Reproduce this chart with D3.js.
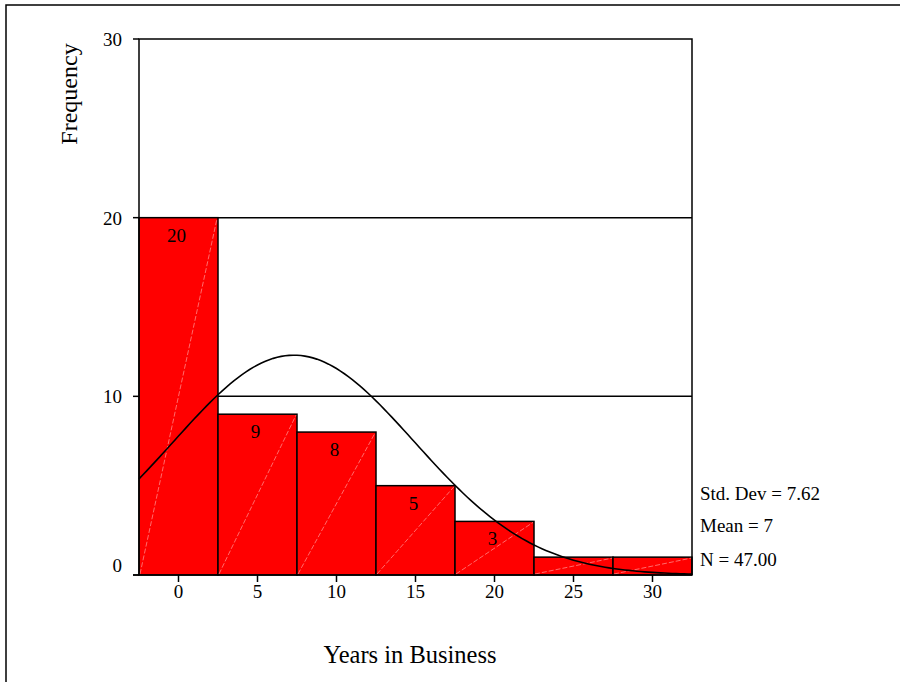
<!DOCTYPE html>
<html><head><meta charset="utf-8">
<script src="https://cdn.jsdelivr.net/npm/d3@7"></script>
<style>
html,body{margin:0;padding:0;background:#fff;}
svg{display:block;}
text{font-family:"Liberation Serif","Times New Roman",serif;fill:#000;}
</style></head>
<body>
<script>
// ---- data ----
const binCenters = [0, 5, 10, 15, 20, 25, 30];
const frequencies = [20, 9, 8, 5, 3, 1, 1];
const barLabels = ["20", "9", "8", "5", "3", "", ""];
const xTicks = [0, 5, 10, 15, 20, 25, 30];
const yTicks = [0, 10, 20, 30];
const binWidth = 5;
const stdDev = 7.62;
const curveMean = 7.3;   // unrounded mean (label shows rounded 7)
const nCount = 47;
const statLines = ["Std. Dev = 7.62", "Mean = 7", "N = 47.00"];
const xTitle = "Years in Business";
const yTitle = "Frequency";

const W = 900, H = 682;
const svg = d3.select("body").append("svg").attr("width", W).attr("height", H);

// outer frame (top and left)
svg.append("path").attr("d", "M6,682 L6,5 L900,5").attr("fill","none").attr("stroke","#000").attr("stroke-width",1.5);

const x = d3.scaleLinear().domain([-2.5, 32.5]).range([139, 692]);
const y = d3.scaleLinear().domain([0, 30]).range([575, 39]);

// gridlines (behind bars)
svg.append("g").selectAll("line").data(yTicks.filter(t => t > 0 && t < 30)).join("line")
  .attr("x1", x(-2.5)).attr("x2", x(32.5))
  .attr("y1", d => y(d)).attr("y2", d => y(d))
  .attr("stroke", "#000").attr("stroke-width", 1.5);

// bars
const bars = svg.append("g");
binCenters.forEach((c, i) => {
  const x0 = x(c - binWidth/2), x1 = x(c + binWidth/2);
  const y0 = y(0), y1 = y(frequencies[i]);
  bars.append("rect").attr("x", x0).attr("y", y1).attr("width", x1 - x0).attr("height", y0 - y1)
    .attr("fill", "#ff0000").attr("stroke", "#000").attr("stroke-width", 1.5);
  bars.append("line").attr("x1", x0 + 1).attr("y1", y0 - 1).attr("x2", x1 - 1).attr("y2", y1 + 1)
    .attr("stroke", "#ffb4b4").attr("stroke-width", 0.6).attr("stroke-dasharray", "5,2");
  if (barLabels[i]) {
    bars.append("text").attr("x", (x0 + x1)/2 - 2).attr("y", y1 + 24)
      .attr("text-anchor", "middle").attr("font-size", 19).text(barLabels[i]);
  }
});

// plot frame: left, top, right
svg.append("path")
  .attr("d", `M${x(-2.5)},${y(0)} L${x(-2.5)},${y(30)} L${x(32.5)},${y(30)} L${x(32.5)},${y(0)}`)
  .attr("fill", "none").attr("stroke", "#000").attr("stroke-width", 1.5);

// fitted normal curve from mean, sd, N
const curvePts = d3.range(-2.5, 32.5001, 0.25).map(v => {
  const z = (v - curveMean) / stdDev;
  return [v, nCount * binWidth / (stdDev * Math.sqrt(2 * Math.PI)) * Math.exp(-0.5 * z * z)];
});
svg.append("path").datum(curvePts)
  .attr("d", d3.line().x(d => x(d[0])).y(d => y(d[1])))
  .attr("fill", "none").attr("stroke", "#000").attr("stroke-width", 1.6);

// y axis ticks + labels
const yAx = svg.append("g");
yTicks.forEach(t => {
  yAx.append("line").attr("x1", x(-2.5) - 6).attr("x2", x(-2.5)).attr("y1", y(t)).attr("y2", y(t))
    .attr("stroke", "#000").attr("stroke-width", 1.5);
  yAx.append("text").attr("x", 122).attr("y", y(t) + (t === 0 ? -3 : 7))
    .attr("text-anchor", "end").attr("font-size", 19).text(t);
});

// x axis ticks + labels
const xAx = svg.append("g");
xTicks.forEach(t => {
  xAx.append("line").attr("x1", x(t)).attr("x2", x(t)).attr("y1", y(0)).attr("y2", y(0) + 7)
    .attr("stroke", "#000").attr("stroke-width", 1.5);
  xAx.append("text").attr("x", x(t)).attr("y", 598)
    .attr("text-anchor", "middle").attr("font-size", 19).text(t);
});
svg.append("line").attr("x1", x(-2.5) - 6).attr("x2", x(32.5)).attr("y1", y(0)).attr("y2", y(0))
  .attr("stroke", "#000").attr("stroke-width", 1.5);

// titles
svg.append("text").attr("x", 410).attr("y", 663).attr("text-anchor", "middle").attr("font-size", 24.5).text(xTitle);
svg.append("text").attr("transform", "translate(77,94) rotate(-90)").attr("text-anchor", "middle").attr("font-size", 24).text(yTitle);

// stats
const sy = [500, 532, 566];
statLines.forEach((s, i) => {
  svg.append("text").attr("x", 700).attr("y", sy[i]).attr("font-size", 19).text(s);
});
</script>
</body></html>
